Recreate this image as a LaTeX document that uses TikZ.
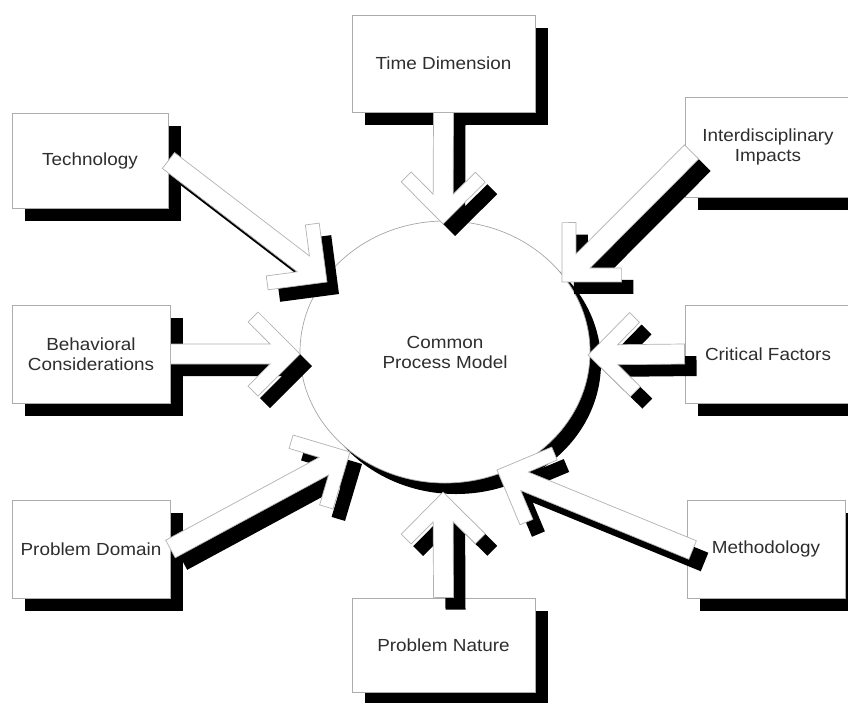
\documentclass[tikz,border=0pt]{standalone}
\usepackage{fontspec}
\newfontfamily\dfont[FakeStretch=1.08]{Liberation Sans}
\usetikzlibrary{calc,shapes.geometric,shadows}

% Block arrow with an open chevron head, from start point #2 to tip #3
\newcommand\blockarrow[3][]{%
  \path[#1] ($(#2)!10pt!90:(#3)$)
    -- ($(#3)!29.8pt!(#2)!10pt!-90:(#2)$)
    -- ($(#3)!51.9pt!(#2)!32.1pt!-90:(#2)$)
    -- ($(#3)!42pt!(#2)!42pt!-90:(#2)$)
    -- (#3)
    -- ($(#3)!42pt!(#2)!42pt!90:(#2)$)
    -- ($(#3)!51.9pt!(#2)!32.1pt!90:(#2)$)
    -- ($(#3)!29.8pt!(#2)!10pt!90:(#2)$)
    -- ($(#2)!10pt!-90:(#3)$) -- cycle;}

\tikzset{
  lbl/.style={font=\dfont\fontsize{17.5}{20}\selectfont, text=black!82, align=center},
  box/.style={lbl, draw=gray!65, line width=0.9pt, fill=white, inner sep=2pt,
    drop shadow={shadow xshift=13pt, shadow yshift=-13pt, fill=black, opacity=1}},
  hub/.style={lbl, ellipse, draw=gray!70, line width=0.7pt, fill=white, inner sep=0pt,
    drop shadow={shadow xshift=11pt, shadow yshift=-11pt, fill=black, opacity=1}},
  ashadow/.style={fill=black, transform canvas={xshift=12pt, yshift=-12pt}},
  abody/.style={fill=white, draw=gray!60, line width=0.7pt, line join=miter},
}

\begin{document}
\begin{tikzpicture}[x=1pt, y=-1pt]
  \fill[white] (0,0) rectangle (848,702);
  \useasboundingbox (0,0) rectangle (848,702);
  \clip (0,0) rectangle (848,702);

  % outer factor boxes
  \node[box, minimum width=183pt, minimum height=97pt] (time)  at (443.5,63.5) {Time Dimension};
  \node[box, minimum width=156pt, minimum height=95pt] (tech)  at (90,160.5)   {Technology};
  \node[box, minimum width=166pt, minimum height=100pt] (inter) at (768,147)   {Interdisciplinary\\Impacts};
  \node[box, minimum width=158pt, minimum height=98pt] (behav) at (91,354)     {Behavioral\\Considerations};
  \node[box, minimum width=166pt, minimum height=98pt] (crit)  at (768,354)    {Critical Factors};
  \node[box, minimum width=158pt, minimum height=98pt] (pdom)  at (91,549)     {Problem Domain};
  \node[box, minimum width=158pt, minimum height=98pt] (meth)  at (766,549)    {Methodology};
  \node[box, minimum width=183pt, minimum height=94pt] (pnat)  at (443.5,645)  {Problem Nature};

  % central model
  \node[hub, minimum width=290pt, minimum height=262pt] (cpm) at (445,352) {Common\\Process Model};

  % arrow start points inside boxes and tips at the hub
  \coordinate (inter-s) at ($(inter.west)+(7,5)$);
  \coordinate (meth-s)  at ($(meth.west)+(6,1)$);
  \coordinate (time-t)  at (443,224);
  \coordinate (tech-t)  at (327,282);
  \coordinate (inter-t) at (562,282);
  \coordinate (behav-t) at (300,354);
  \coordinate (crit-t)  at (588,355);
  \coordinate (pdom-t)  at (350,452);
  \coordinate (pnat-t)  at (443,492);
  \coordinate (meth-t)  at (497,470);

  \foreach \s/\t in {time.south/time-t, tech.east/tech-t, inter-s/inter-t,
                     behav.east/behav-t, crit.west/crit-t, pdom.east/pdom-t,
                     pnat.north/pnat-t, meth-s/meth-t} {
    \blockarrow[ashadow]{\s}{\t}
    \blockarrow[abody]{\s}{\t}
  }
\end{tikzpicture}
\end{document}
